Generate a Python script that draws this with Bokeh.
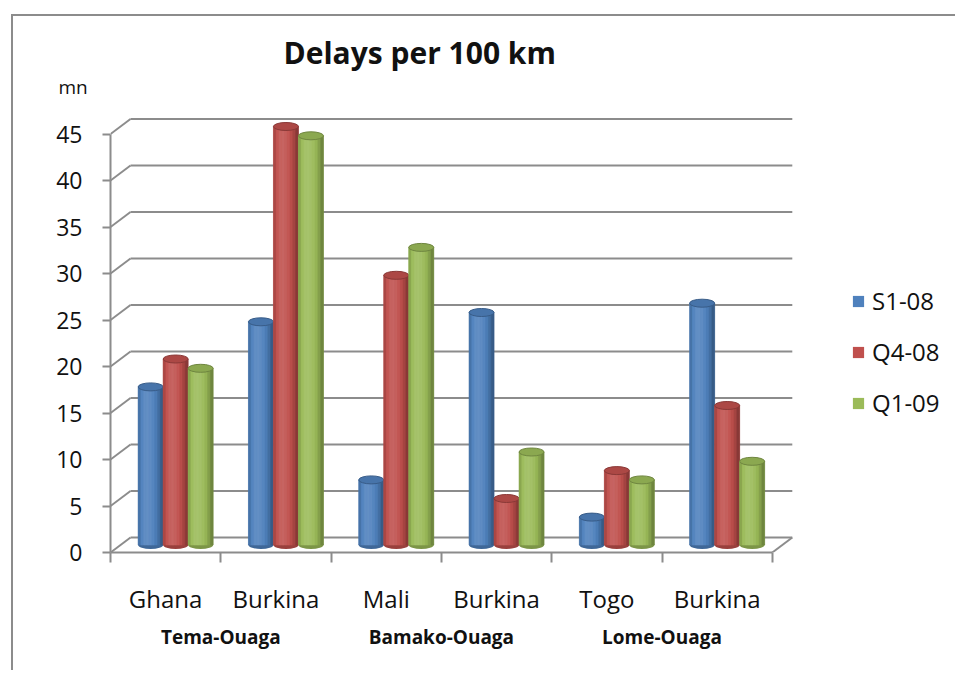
import numpy as np
from bokeh.plotting import figure
from bokeh.models import (Range1d, LinearAxis, FixedTicker, ColumnDataSource,
                          Legend, LegendItem, Title)
from bokeh.embed import file_html
from bokeh.resources import INLINE

# ---------------- data ----------------
countries = ["Ghana", "Burkina", "Mali", "Burkina", "Togo", "Burkina"]
routes = ["Tema-Ouaga", "Bamako-Ouaga", "Lome-Ouaga"]
series_names = ["S1-08", "Q4-08", "Q1-09"]
s1_08 = [17, 24, 7, 25, 3, 26]
q4_08 = [20, 45, 29, 5, 8, 15]
q1_09 = [19, 44, 32, 10, 7, 9]
y_ticks = [0, 5, 10, 15, 20, 25, 30, 35, 40, 45]

series_values = [s1_08, q4_08, q1_09]
series_colors = [(79, 129, 189), (192, 80, 77), (155, 187, 89)]

# ---------------- geometry / style ----------------
W, H = 944, 656
MB_L, MB_R, MB_T, MB_B = 97, 0, 84, 120
PX_X = 110.3          # px per category
PX_Y = 9.3            # px per minute
frame_w = W - MB_L - MB_R
frame_h = H - MB_T - MB_B
GRID = "#8c8c8c"
TXT = "#111111"
FONT = "Open Sans"

dx = 20 / PX_X        # depth offset (3-D look)
dy = 15 / PX_Y
bar_w = 25 / PX_X
base = dy / 2
n_cat = len(countries)

p = figure(width=W, height=H, title=None,
           x_range=Range1d(0, frame_w / PX_X), y_range=Range1d(0, frame_h / PX_Y),
           x_axis_type=None, y_axis_type=None,
           toolbar_location=None, output_backend="svg",
           min_border_left=MB_L, min_border_right=MB_R,
           min_border_top=MB_T, min_border_bottom=MB_B)
p.outline_line_color = None
p.background_fill_color = "white"
p.border_fill_color = "white"
p.styles = {"margin-left": "11px", "margin-top": "14px",
            "border-left": "2px solid #8c8c8c", "border-top": "2px solid #8c8c8c"}

# ---------------- back wall grid (3-D) ----------------
yt = np.array(y_ticks, dtype=float)
n_t = len(yt)
x0 = np.concatenate([np.zeros(n_t), np.full(n_t, dx), [n_cat]])
y0 = np.concatenate([yt, yt + dy, [0]])
x1 = np.concatenate([np.full(n_t, dx), np.full(n_t, n_cat + dx), [n_cat + dx]])
y1 = np.concatenate([yt + dy, yt + dy, [dy]])
p.segment(x0=x0, y0=y0, x1=x1, y1=y1, line_color=GRID, line_width=2)

# ---------------- cylinders ----------------
def shade(rgb, f):
    c = np.array(rgb, dtype=float)
    if f <= 1:
        c = c * f
    else:
        c = c + (255 - c) * (f - 1)
    c = np.clip(c, 0, 255).astype(int)
    return "#%02x%02x%02x" % tuple(c)

def shade_factor(t):
    if t < 0.35:
        return 1.12 - 0.32 * ((0.35 - t) / 0.35) ** 2
    return 1.12 - 0.48 * ((t - 0.35) / 0.65) ** 2

n_strips = 9
cat_centers = np.arange(n_cat) + 0.5
legend_items = []
for si, (name, vals, rgb) in enumerate(zip(series_names, series_values, series_colors)):
    xc = cat_centers + dx / 2 + (si - 1) * bar_w
    vals = np.array(vals, dtype=float)
    src = ColumnDataSource(dict(x=xc, top=base + vals, bottom=np.full(n_cat, base)))
    # rounded bottom
    p.ellipse(x="x", y="bottom", width=bar_w, height=8, height_units="screen",
              source=src, fill_color=shade(rgb, 0.8), line_color=None)
    body = p.vbar(x="x", top="top", bottom="bottom", width=bar_w, source=src,
                  fill_color=shade(rgb, 1.0), line_color=None)
    for k in range(n_strips):
        t = (k + 0.5) / n_strips
        col = shade(rgb, shade_factor(t))
        sx = xc + bar_w * (-0.5 + t)
        ssrc = ColumnDataSource(dict(x=sx, top=base + vals, bottom=np.full(n_cat, base)))
        p.vbar(x="x", top="top", bottom="bottom", width=bar_w / n_strips, source=ssrc,
               fill_color=col, line_color=col, line_width=0.6)
    # top face
    p.ellipse(x="x", y="top", width=bar_w, height=8, height_units="screen",
              source=src, fill_color=shade(rgb, 0.9), line_color=shade(rgb, 0.72),
              line_width=1)
    legend_items.append(LegendItem(label=name, renderers=[body]))

# ---------------- axes ----------------
yaxis = LinearAxis(ticker=FixedTicker(ticks=y_ticks), bounds=(0, max(y_ticks)),
                   axis_line_color=GRID, axis_line_width=2,
                   major_tick_out=8, major_tick_in=0,
                   major_tick_line_color=GRID, major_tick_line_width=2,
                   minor_tick_line_color=None,
                   major_label_text_font=FONT, major_label_text_font_size="23px",
                   major_label_text_color=TXT, major_label_standoff=20)
p.add_layout(yaxis, "left")

edges = [float(v) for v in np.arange(n_cat + 1)]
xaxis = LinearAxis(ticker=FixedTicker(ticks=[float(c) for c in cat_centers], minor_ticks=edges),
                   bounds=(0, n_cat),
                   axis_line_color=GRID, axis_line_width=2,
                   major_tick_line_color=None, major_tick_out=0, major_tick_in=0,
                   minor_tick_out=10, minor_tick_in=0,
                   minor_tick_line_color=GRID, minor_tick_line_width=2,
                   major_label_overrides={float(c): n for c, n in zip(cat_centers, countries)},
                   major_label_text_font=FONT, major_label_text_font_size="24px",
                   major_label_text_color=TXT, major_label_standoff=19)
p.add_layout(xaxis, "below")

route_pos = [float(v) for v in np.arange(len(routes)) * 2 + 1]
raxis = LinearAxis(ticker=FixedTicker(ticks=route_pos), bounds=(0, n_cat),
                   axis_line_color=None, major_tick_line_color=None,
                   minor_tick_line_color=None,
                   major_label_overrides={r: n for r, n in zip(route_pos, routes)},
                   major_label_text_font=FONT, major_label_text_font_size="19px",
                   major_label_text_font_style="bold",
                   major_label_text_color=TXT, major_label_standoff=0)
p.add_layout(raxis, "below")

# ---------------- titles ----------------
p.add_layout(Title(text="mn", align="left", offset=-52, standoff=2,
                   text_font=FONT, text_font_size="19px", text_font_style="normal",
                   text_color=TXT), "above")
p.add_layout(Title(text="Delays per 100 km", align="left", offset=173, standoff=-4,
                   text_font=FONT, text_font_size="30px", text_font_style="bold",
                   text_color=TXT), "above")

# ---------------- legend ----------------
legend = Legend(items=legend_items, location=(741, 133), orientation="vertical",
                glyph_width=14, glyph_height=14, label_height=30, spacing=18,
                padding=0, margin=0, border_line_color=None, background_fill_alpha=0,
                label_standoff=7, label_text_font=FONT, label_text_font_size="24px",
                label_text_color=TXT)
p.add_layout(legend)

open("out.html", "w").write(file_html(p, INLINE))
